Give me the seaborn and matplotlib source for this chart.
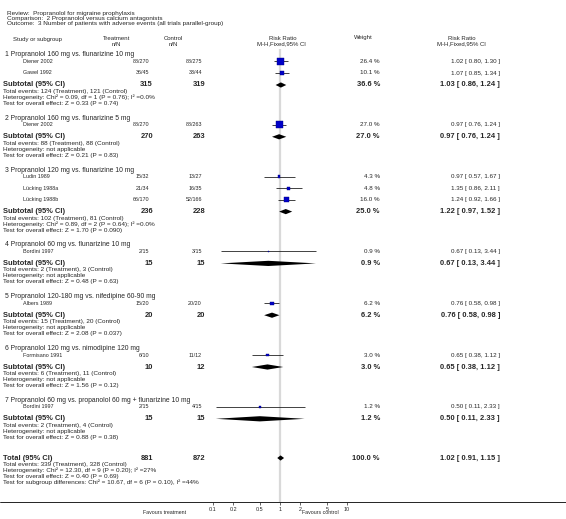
import matplotlib
matplotlib.use("Agg")
import matplotlib.pyplot as plt
import pandas as pd
import seaborn as sns

sns.set_style("white")
plt.rcParams["font.family"] = ["Liberation Sans", "DejaVu Sans"]

# ---- data ----
title_lines = [
    "Review:  Propranolol for migraine prophylaxis",
    "Comparison:  2 Propranolol versus calcium antagonists",
    "Outcome:  3 Number of patients with adverse events (all trials parallel-group)",
]

group_titles = [
    "1 Propranolol 160 mg vs. flunarizine 10 mg",
    "2 Propranolol 160 mg vs. flunarizine 5 mg",
    "3 Propranolol 120 mg vs. flunarizine 10 mg",
    "4 Propranolol 60 mg vs. flunarizine 10 mg",
    "5 Propranolol 120-180 mg vs. nifedipine 60-90 mg",
    "6 Propranolol 120 mg vs. nimodipine 120 mg",
    "7 Propranolol 60 mg vs. propanolol 60 mg + flunarizine 10 mg",
]

study_group = [0, 0, 1, 2, 2, 2, 3, 4, 5, 6]
study_names = ["Diener 2002", "Gawel 1992", "Diener 2002", "Ludin 1989",
               "Lücking 1988a", "Lücking 1988b", "Bordini 1997", "Albers 1989",
               "Formisano 1991", "Bordini 1997"]
study_treat = ["88/270", "36/45", "88/270", "15/32", "21/34", "66/170",
               "2/15", "15/20", "6/10", "2/15"]
study_ctrl = ["88/275", "33/44", "88/263", "13/27", "16/35", "52/166",
              "3/15", "20/20", "11/12", "4/15"]
study_weight = [26.4, 10.1, 27.0, 4.3, 4.8, 16.0, 0.9, 6.2, 3.0, 1.2]
study_rr = [1.02, 1.07, 0.97, 0.97, 1.35, 1.24, 0.67, 0.76, 0.65, 0.50]
study_lo = [0.80, 0.85, 0.76, 0.57, 0.86, 0.92, 0.13, 0.58, 0.38, 0.11]
study_hi = [1.30, 1.34, 1.24, 1.67, 2.11, 1.66, 3.44, 0.98, 1.12, 2.33]

sub_treat_n = [315, 270, 236, 15, 20, 10, 15]
sub_ctrl_n = [319, 263, 228, 15, 20, 12, 15]
sub_weight = [36.6, 27.0, 25.0, 0.9, 6.2, 3.0, 1.2]
sub_rr = [1.03, 0.97, 1.22, 0.67, 0.76, 0.65, 0.50]
sub_lo = [0.86, 0.76, 0.97, 0.13, 0.58, 0.38, 0.11]
sub_hi = [1.24, 1.24, 1.52, 3.44, 0.98, 1.12, 2.33]
sub_events_t = [124, 88, 102, 2, 15, 6, 2]
sub_events_c = [121, 88, 81, 3, 20, 11, 4]
sub_het = ["Chi² = 0.09, df = 1 (P = 0.76); I² =0.0%", "not applicable",
           "Chi² = 0.89, df = 2 (P = 0.64); I² =0.0%", "not applicable",
           "not applicable", "not applicable", "not applicable"]
sub_z = ["Z = 0.33 (P = 0.74)", "Z = 0.21 (P = 0.83)", "Z = 1.70 (P = 0.090)",
         "Z = 0.48 (P = 0.63)", "Z = 2.08 (P = 0.037)", "Z = 1.56 (P = 0.12)",
         "Z = 0.88 (P = 0.38)"]

total_n = [881, 872]
total_weight = 100.0
total_rr, total_lo, total_hi = 1.02, 0.91, 1.15
total_events = [339, 328]
total_het = "Chi² = 12.30, df = 9 (P = 0.20); I² =27%"
total_z = "Z = 0.40 (P = 0.69)"
subgroup_diff = "Chi² = 10.67, df = 6 (P = 0.10), I² =44%"

tick_vals = [0.1, 0.2, 0.5, 1, 2, 5, 10]
tick_labels = ["0.1", "0.2", "0.5", "1", "2", "5", "10"]

# ---- layout (pixels) ----
W, H = 566, 519
fig = plt.figure(figsize=(W / 100, H / 100), dpi=100)
ax = fig.add_axes([0, 0, 1, 1])
ax.set_xlim(0, W)
ax.set_ylim(H, 0)
ax.axis("off")

AXIS_Y, TOP_Y = 502, 49
fx = fig.add_axes([146 / W, (H - AXIS_Y) / H, 268 / W, (AXIS_Y - TOP_Y) / H])
fx.patch.set_alpha(0)

small, detail, col, head, gtitle, bold = 3.9, 4.6, 4.5, 4.3, 4.9, 5.4
X_TR, X_CT, X_W, X_RR = 149, 202, 380, 500
XB_TR, XB_CT = 153, 205


def rr_text(r, lo, hi):
    return f"{r:.2f} [ {lo:.2f}, {hi:.2f} ]"


for i, t in enumerate(title_lines):
    ax.text(7, 13 + 5.3 * i, t, fontsize=detail, va="center")

ax.text(13, 39, "Study or subgroup", fontsize=head, va="center")
ax.text(117, 39, "Treatment", fontsize=head, va="center", ha="center")
ax.text(116, 45, "n/N", fontsize=head, va="center", ha="center")
ax.text(173, 39, "Control", fontsize=head, va="center", ha="center")
ax.text(173, 45, "n/N", fontsize=head, va="center", ha="center")
ax.text(283, 38, "Risk Ratio", fontsize=head, va="center", ha="center")
ax.text(281, 44, "M-H,Fixed,95% CI", fontsize=head, va="center", ha="center")
ax.text(363, 38, "Weight", fontsize=head, va="center", ha="center")
ax.text(462, 38, "Risk Ratio", fontsize=head, va="center", ha="center")
ax.text(461, 44, "M-H,Fixed,95% CI", fontsize=head, va="center", ha="center")

study_y = [0.0] * len(study_names)
sub_y = []
y = 55.0
for g, title in enumerate(group_titles):
    ax.text(5, y, title, fontsize=gtitle, va="center")
    y += 6.5
    idx = [k for k, sg in enumerate(study_group) if sg == g]
    for j, k in enumerate(idx):
        if j:
            y += 11.5
        study_y[k] = y
        ax.text(23, y, study_names[k], fontsize=small, va="center")
        ax.text(X_TR, y, study_treat[k], fontsize=small, va="center", ha="right")
        ax.text(X_CT, y, study_ctrl[k], fontsize=small, va="center", ha="right")
        ax.text(X_W, y, f"{study_weight[k]:.1f} %", fontsize=col, va="center", ha="right")
        ax.text(X_RR, y, rr_text(study_rr[k], study_lo[k], study_hi[k]),
                fontsize=col, va="center", ha="right")
    y += 12
    sub_y.append(y)
    ax.text(3, y, "Subtotal (95% CI)", fontsize=bold, weight="bold", va="center")
    ax.text(XB_TR, y, str(sub_treat_n[g]), fontsize=bold, weight="bold", va="center", ha="right")
    ax.text(XB_CT, y, str(sub_ctrl_n[g]), fontsize=bold, weight="bold", va="center", ha="right")
    ax.text(X_W, y, f"{sub_weight[g]:.1f} %", fontsize=bold, weight="bold", va="center", ha="right")
    ax.text(X_RR, y, rr_text(sub_rr[g], sub_lo[g], sub_hi[g]),
            fontsize=bold, weight="bold", va="center", ha="right")
    y += 6.5
    details = [f"Total events: {sub_events_t[g]} (Treatment), {sub_events_c[g]} (Control)",
               f"Heterogeneity: {sub_het[g]}",
               f"Test for overall effect: {sub_z[g]}"]
    for d in details:
        ax.text(3, y, d, fontsize=detail, va="center")
        y += 6
    y += 8.8

total_y = 458
ax.text(3, total_y, "Total (95% CI)", fontsize=bold, weight="bold", va="center")
ax.text(XB_TR, total_y, str(total_n[0]), fontsize=bold, weight="bold", va="center", ha="right")
ax.text(XB_CT, total_y, str(total_n[1]), fontsize=bold, weight="bold", va="center", ha="right")
ax.text(X_W, total_y, f"{total_weight:.1f} %", fontsize=bold, weight="bold", va="center", ha="right")
ax.text(X_RR, total_y, rr_text(total_rr, total_lo, total_hi),
        fontsize=bold, weight="bold", va="center", ha="right")
tot_details = [f"Total events: {total_events[0]} (Treatment), {total_events[1]} (Control)",
               f"Heterogeneity: {total_het}",
               f"Test for overall effect: {total_z}",
               f"Test for subgroup differences: {subgroup_diff}"]
for i, d in enumerate(tot_details):
    ax.text(3, total_y + 6.5 + 6 * i, d, fontsize=detail, va="center")

# axis baseline across the whole width
ax.plot([0, W], [AXIS_Y, AXIS_Y], color="black", lw=0.6)
ax.text(186, 513, "Favours treatment", fontsize=3.8, va="center", ha="right")
ax.text(302, 513, "Favours control", fontsize=3.8, va="center", ha="left")

# ---- forest part ----
fx.axvline(1, color="#d9d9d9", lw=1.6, zorder=0)
fx.hlines(study_y, study_lo, study_hi, color="#222222", lw=0.6, zorder=1)

studies = pd.DataFrame({"rr": study_rr, "y": study_y, "w": study_weight})
sns.scatterplot(data=studies, x="rr", y="y", size="w", sizes=(0, 25),
                size_norm=(0, 27.0), marker="s", color="#0000c8",
                edgecolor="#000080", linewidth=0.3, legend=False, ax=fx, zorder=2)

dh = 2.6
for yy, r, lo, hi in zip(sub_y + [total_y], sub_rr + [total_rr],
                         sub_lo + [total_lo], sub_hi + [total_hi]):
    fx.fill([lo, r, hi, r], [yy, yy - dh, yy, yy + dh], color="black", lw=0, zorder=3)

fx.set_xscale("log")
fx.set_xlim(0.01, 100)
fx.set_ylim(AXIS_Y, TOP_Y)
fx.set_xlabel("")
fx.set_ylabel("")
fx.set_yticks([])
fx.set_xticks(tick_vals)
fx.set_xticklabels(tick_labels)
fx.minorticks_off()
fx.tick_params(axis="x", length=2, width=0.5, labelsize=3.9, pad=1.5, bottom=True)
for s in fx.spines.values():
    s.set_visible(False)

fig.savefig("out.png", dpi=100)
